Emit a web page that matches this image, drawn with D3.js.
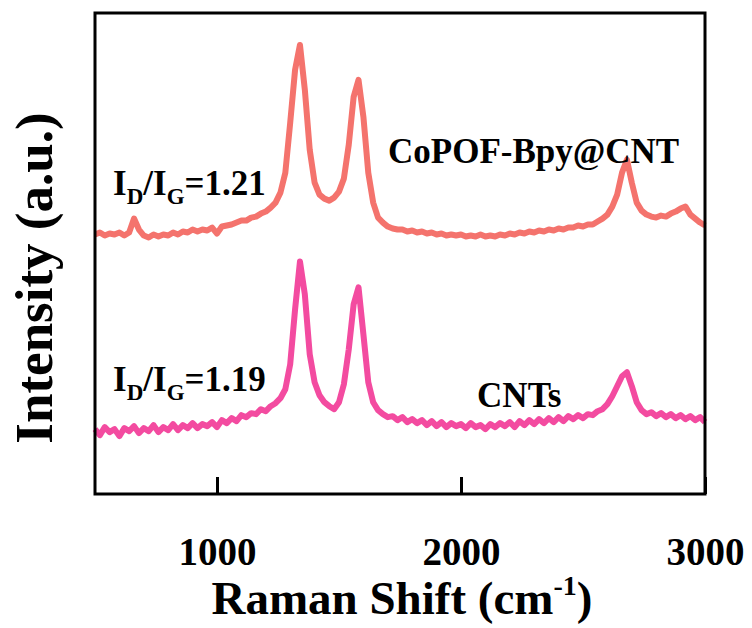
<!DOCTYPE html>
<html>
<head>
<meta charset="utf-8">
<script src="https://cdn.jsdelivr.net/npm/d3@7"></script>
<style>
  body { margin: 0; background: #fff; }
  svg { display: block; }
</style>
</head>
<body>
<div class="raman-chart"></div>
<script>
// Raman shift grid (cm-1), every 20 from 500 to 3000
const shift = d3.range(500, 3001, 20);

// CoPOF-Bpy@CNT (upper trace, offset intensity, a.u.)
const copofBpy = [
  260, 262, 259, 261, 260, 262, 259, 262, 276, 265,
  259, 257, 260, 258, 260, 259, 262, 260, 263, 262,
  265, 263, 265, 264, 267, 261, 268, 269, 270, 272,
  274, 274, 277, 278, 281, 283, 287, 292, 302, 322,
  372, 425, 450, 405, 345, 312, 300, 296, 294, 297,
  303, 316, 350, 398, 415, 378, 322, 292, 277, 272,
  268, 266, 265, 265, 263, 264, 262, 263, 261, 262,
  260, 261, 259, 260, 259, 260, 258, 259, 258, 260,
  258, 259, 258, 260, 259, 261, 260, 262, 261, 263,
  262, 264, 263, 265, 264, 266, 265, 267, 267, 269,
  268, 270, 270, 273, 276, 280, 288, 300, 322, 335,
  312, 292, 284, 280, 278, 277, 279, 278, 281, 283,
  286, 288, 280, 276, 272, 269
];

// CNTs (lower trace)
const cnts = [
  65, 59, 67, 62, 65, 58, 66, 63, 68, 61,
  66, 63, 69, 62, 67, 64, 70, 64, 69, 66,
  71, 66, 70, 68, 72, 67, 74, 71, 76, 73,
  79, 77, 81, 80, 85, 83, 88, 91, 96, 105,
  130, 185, 233, 200, 140, 112, 99, 92, 88, 85,
  92, 110, 145, 190, 207, 160, 112, 92, 84, 80,
  77, 78, 74, 77, 72, 75, 71, 74, 69, 73,
  68, 72, 67, 71, 68, 70, 66, 71, 67, 69,
  65, 70, 67, 71, 68, 72, 67, 73, 69, 74,
  70, 75, 71, 76, 72, 77, 73, 78, 75, 79,
  76, 80, 79, 83, 85, 90, 98, 108, 118, 122,
  108, 92, 84, 80, 82, 78, 81, 77, 80, 76,
  79, 75, 78, 74, 77, 72
];

const xTicks = [1000, 2000, 3000];

const seriesNames = ["CoPOF-Bpy@CNT", "CNTs"];
const seriesColors = ["#f4736d", "#f34ba0"];
const ratioLabels = ["1.21", "1.19"];

const width = 752, height = 628;
const margin = { top: 13, right: 47, bottom: 134, left: 95 };
const innerW = width - margin.left - margin.right;
const innerH = height - margin.top - margin.bottom;
const serif = "'Liberation Serif', 'Times New Roman', serif";

const svg = d3.select(".raman-chart").append("svg")
  .attr("width", width)
  .attr("height", height);

const g = svg.append("g")
  .attr("transform", `translate(${margin.left}, ${margin.top})`);

const x = d3.scaleLinear().domain([500, 3000]).range([0, innerW]);
const y = d3.scaleLinear().domain([0, 482]).range([innerH, 0]);

const line = d3.line()
  .x((d, i) => x(shift[i]))
  .y(d => y(d));

[copofBpy, cnts].forEach((vals, k) => {
  g.append("path")
    .datum(vals)
    .attr("fill", "none")
    .attr("stroke", seriesColors[k])
    .attr("stroke-width", 6)
    .attr("stroke-linejoin", "round")
    .attr("d", line);
});

// frame
g.append("rect")
  .attr("width", innerW)
  .attr("height", innerH)
  .attr("fill", "none")
  .attr("stroke", "#000")
  .attr("stroke-width", 3);

// bottom axis, ticks pointing inward
const xAxis = g.append("g")
  .attr("transform", `translate(0, ${innerH})`)
  .call(d3.axisBottom(x).tickValues(xTicks).tickSize(-17).tickPadding(43).tickFormat(d3.format("d")));
xAxis.select(".domain").remove();
xAxis.selectAll(".tick line").attr("stroke", "#000").attr("stroke-width", 3);
xAxis.selectAll(".tick text")
  .attr("fill", "#000")
  .style("font-family", serif)
  .style("font-weight", "bold")
  .style("font-size", "39px");

// axis titles
const xTitle = svg.append("text")
  .attr("x", 402)
  .attr("y", 614)
  .attr("text-anchor", "middle")
  .style("font-family", serif)
  .style("font-weight", "bold")
  .style("font-size", "47px");
xTitle.append("tspan").text("Raman Shift (cm");
xTitle.append("tspan").attr("dy", -19).style("font-size", "28px").text("-1");
xTitle.append("tspan").attr("dy", 19).text(")");

svg.append("text")
  .attr("transform", "translate(52, 278) rotate(-90)")
  .attr("text-anchor", "middle")
  .style("font-family", serif)
  .style("font-weight", "bold")
  .style("font-size", "53px")
  .text("Intensity (a.u.)");

// I_D/I_G annotations
const ratioPos = [[574, 300], [574, 103]];
ratioLabels.forEach((r, k) => {
  const t = g.append("text")
    .attr("x", x(ratioPos[k][0]))
    .attr("y", y(ratioPos[k][1]))
    .style("font-family", serif)
    .style("font-weight", "bold")
    .style("font-size", "35px");
  t.append("tspan").text("I");
  t.append("tspan").attr("dy", 9).style("font-size", "23px").text("D");
  t.append("tspan").attr("dy", -9).text("/I");
  t.append("tspan").attr("dy", 9).style("font-size", "23px").text("G");
  t.append("tspan").attr("dy", -9).text("=" + r);
});

// series labels
const namePos = [[1701, 332], [2066, 87]];
seriesNames.forEach((n, k) => {
  g.append("text")
    .attr("x", x(namePos[k][0]))
    .attr("y", y(namePos[k][1]))
    .style("font-family", serif)
    .style("font-weight", "bold")
    .style("font-size", "35px")
    .text(n);
});
</script>
</body>
</html>
